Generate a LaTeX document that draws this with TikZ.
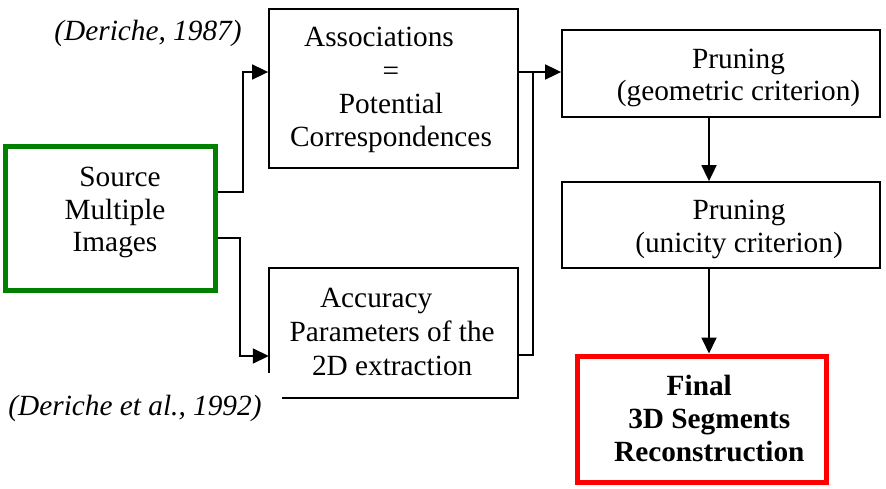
\documentclass[tikz,border=0pt]{standalone}
\usepackage{fontspec}
\setmainfont{Liberation Serif}
\usetikzlibrary{arrows.meta}
\definecolor{boxgreen}{RGB}{0,128,0}
\definecolor{boxred}{RGB}{255,0,0}
\tikzset{
  stagebox/.style={draw=black, line width=1.8pt, inner sep=0pt},
  srcbox/.style={draw=boxgreen, line width=5pt, inner sep=0pt},
  finbox/.style={draw=boxred, line width=5pt, inner sep=0pt},
  txt/.style={align=center, inner sep=0pt, anchor=base,
    font=\fontsize{29.3}{#1}\selectfont},
  txt/.default=33.3,
  cite/.style={inner sep=0pt, anchor=base, font=\fontsize{29.3}{33}\selectfont\itshape},
  link/.style={line width=1.8pt},
  arr/.style={line width=1.8pt, -{Triangle[length=16pt,width=15pt]}}
}
\begin{document}
\begin{tikzpicture}[x=1pt,y=-1pt]
\useasboundingbox (0,0) rectangle (886,488);

% boxes
\node[srcbox, minimum width=209.5pt, minimum height=143.5pt] (src) at (110.25,218.25) {};
\node[stagebox, minimum width=249pt, minimum height=159pt] (assoc) at (393.5,88.5) {};
\node[draw=none, inner sep=0pt, minimum width=248.5pt, minimum height=130pt] (acc) at (393.25,333) {};
\draw[line width=1.8pt] ([yshift=25pt]acc.south west) -- (acc.north west) -- (acc.north east)
  -- (acc.south east) -- ([xshift=13pt]acc.south west);
\node[stagebox, minimum width=318pt, minimum height=87pt] (p1) at (721,73.5) {};
\node[stagebox, minimum width=318pt, minimum height=86pt] (p2) at (721,225) {};
\node[finbox, minimum width=248.5pt, minimum height=126.5pt] (fin) at (701.75,419.25) {};

% box texts (anchored at the baseline of the last line)
\node[txt=32.5] (srct) at (115,251.7) {\hspace*{10pt}Source\\Multiple\\Images};
\node[txt=33.3] (assoct) at (391,146.7)
  {Associations\hspace*{24pt}\\=\hspace*{38pt}\\Potential\hspace*{11pt}\\Correspondences};
\node[txt=33.6] (acct) at (392.2,375) {Accuracy\hspace*{32pt}\\Parameters of the\\2D extraction};
\node[txt=32.7] (p1t) at (738.5,100.7) {Pruning\\(geometric criterion)};
\node[txt=32.3] (p2t) at (739,252) {Pruning\\(unicity criterion)};
\node[txt=33.3, font=\fontsize{29.3}{33.3}\selectfont\bfseries] (fint) at (709.3,461.7)
  {Final\hspace*{20pt}\\3D Segments\\Reconstruction};

% references
\node[cite] (cite1) at (148,40) {(Deriche, 1987)};
\node[cite] (cite2) at (135,415) {(Deriche et al., 1992)};

% connectors
\draw[arr] (src.east |- 0,192) -- (243,192) |- (assoc.west |- 0,72);
\draw[arr] (src.east |- 0,238) -- (240,238) |- (acc.west |- 0,356);
\draw[arr] (assoc.east |- 0,72) -- (p1.west |- 0,72);
\draw[link] (acc.east |- 0,355) -- (533,355) -- (533,72);
\draw[arr] (p1.south -| 709,0) -- (p2.north -| 709,0);
\draw[arr] (p2.south -| 709,0) -- (fin.north -| 709,0);
\end{tikzpicture}
\end{document}
